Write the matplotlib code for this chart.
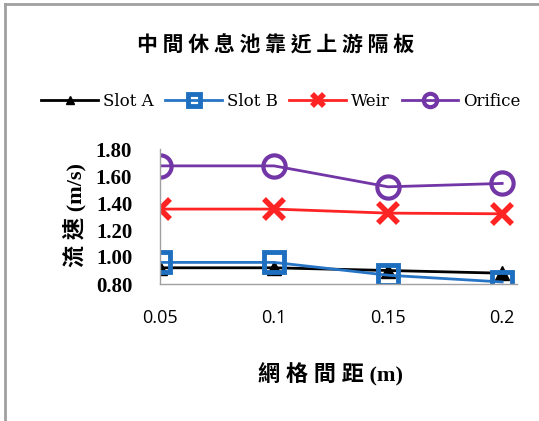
import matplotlib
matplotlib.use("Agg")
from matplotlib import pyplot as plt
from matplotlib.lines import Line2D

spacing = ["0.05", "0.1", "0.15", "0.2"]
slot_a = [0.92, 0.92, 0.90, 0.88]
slot_b = [0.96, 0.96, 0.865, 0.815]
weir = [1.355, 1.355, 1.325, 1.32]
orifice = [1.675, 1.675, 1.52, 1.545]
yticks = [0.80, 1.00, 1.20, 1.40, 1.60, 1.80]

cjk = ['Noto Sans CJK TC', 'DejaVu Sans']
mixed = ['Liberation Serif', 'Noto Sans CJK TC']

fig = plt.figure(figsize=(5.39, 4.21), dpi=100)
ax = fig.add_axes([160/539, 1-284/421, (517-160)/539, (284-149)/421])

x = range(len(spacing))
ax.plot(x, slot_a, color='black', lw=2, marker='^', ms=10, mfc='black', mec='black', label='Slot A')
ax.plot(x, slot_b, color='#2874C4', lw=2, marker='s', ms=14, mfc='none', mec='#1E6FC0', mew=3.5, label='Slot B')
ax.plot(x, weir, color='#FF2424', lw=2, marker='x', ms=15, mew=4, label='Weir')
ax.plot(x, orifice, color='#7236A6', lw=2, marker='o', ms=16, mfc='none', mew=3, label='Orifice')

ax.set_xlim(0, 3.13)
ax.set_ylim(0.80, 1.80)
ax.set_yticks(yticks)
ax.set_yticklabels(['%.2f' % v for v in yticks], family='Liberation Serif', fontweight='bold', fontsize=15)
ax.set_xticks(list(x))
ax.set_xticklabels(spacing, family='Open Sans', fontsize=13)
ax.tick_params(axis='y', length=0, pad=20)
ax.tick_params(axis='x', length=0, pad=18)
for s in ['top', 'right']:
    ax.spines[s].set_visible(False)
for s in ['left', 'bottom']:
    ax.spines[s].set_color('#A0A0A0')
    ax.spines[s].set_linewidth(1)

fig.text(276/539, 1-45/421, '中 間 休 息 池 靠 近 上 游 隔 板', family=cjk, fontsize=15,
         fontweight='bold', ha='center', va='center')
fig.text(75/539, 1-215/421, '流 速 (m/s)', family=mixed, fontsize=16, fontweight='bold',
         rotation=90, ha='center', va='center')
fig.text(330/539, 1-375/421, '網 格 間 距 (m)', family=mixed, fontsize=16, fontweight='bold',
         ha='center', va='center')

leg = fig.legend(loc='center', bbox_to_anchor=(281/539, 1-101/421), ncol=4, frameon=False,
                 prop={'family': 'DejaVu Serif', 'size': 12}, handlelength=3.4,
                 handletextpad=0.3, columnspacing=0.7, markerscale=0.6)

fig.add_artist(Line2D([5/539, 5/539], [0, 1-4/421], color='#A0A0A0', lw=2, transform=fig.transFigure))
fig.add_artist(Line2D([5/539, 1], [1-4/421, 1-4/421], color='#A0A0A0', lw=2, transform=fig.transFigure))

fig.savefig('out.png', dpi=100)
